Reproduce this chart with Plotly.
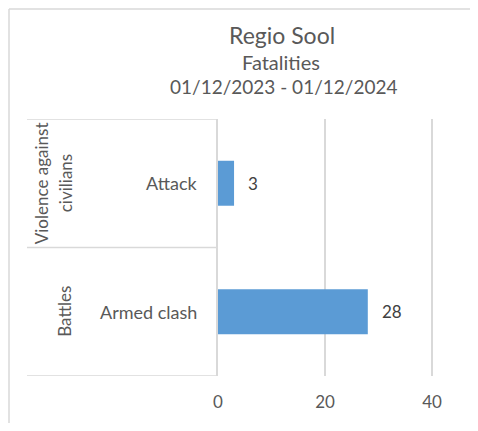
import plotly.graph_objects as go

groups = ["Battles", "Violence against civilians"]
categories = ["Armed clash", "Attack"]
values = [28, 3]
x_ticks = [0, 20, 40]
title = "Regio Sool"
subtitle = "Fatalities"
period = "01/12/2023 - 01/12/2024"

OFF = 8  # page body margin
W, H = 478 - 2 * OFF, 431 - 2 * OFF
PL, PR, PT, PB = 218, 434, 119, 376  # plot area in window pixels
L, R, T, B = PL - OFF, (OFF + W) - PR, PT - OFF, (OFF + H) - PB
pw, ph = PR - PL, PB - PT
X_MAX = 40 * pw / 214.0  # so that 40 sits at window x=432

def px(x):
    return (x - PL) / pw

def py(y):
    return (PB - y) / ph

FONT = "Lato, Carlito, 'Liberation Sans', sans-serif"
TXT = "#595959"
GRID = "#d9d9d9"

fig = go.Figure()
fig.add_trace(go.Bar(
    y=list(range(len(categories))), x=values, orientation="h",
    marker=dict(color="#5b9bd5", line=dict(width=0)),
    width=0.35, hoverinfo="skip",
))

ann = []
ann.append(dict(text=title, x=px(282), y=py(35), xref="paper", yref="paper",
                showarrow=False, font=dict(size=23, color=TXT, family=FONT),
                xanchor="center", yanchor="middle"))
ann.append(dict(text=subtitle, x=px(281), y=py(62), xref="paper", yref="paper",
                showarrow=False, font=dict(size=20, color=TXT, family=FONT),
                xanchor="center", yanchor="middle"))
ann.append(dict(text=period, x=px(283), y=py(86), xref="paper", yref="paper",
                showarrow=False, font=dict(size=19, color=TXT, family=FONT),
                xanchor="center", yanchor="middle"))

for i, (c, v) in enumerate(zip(categories, values)):
    ann.append(dict(text=str(v), x=v, y=i, xref="x", yref="y", showarrow=False,
                    xanchor="left", yanchor="middle", xshift=12,
                    font=dict(size=17, color="#404040", family=FONT)))
    ann.append(dict(text=c, x=px(199), y=i, xref="paper", yref="y", showarrow=False,
                    xanchor="right", yanchor="middle",
                    font=dict(size=18, color=TXT, family=FONT)))

for i, g in enumerate(groups):
    words = g.split(" ")
    if len(words) > 2:
        lines = [" ".join(words[:2]), " ".join(words[2:])]
    else:
        lines = [g]
    xs = [65] if len(lines) == 1 else [41, 65]
    for ln, xx in zip(lines, xs):
        ann.append(dict(text=ln, x=px(xx), y=i, xref="paper", yref="y", showarrow=False,
                        textangle=-90, xanchor="center", yanchor="middle",
                        font=dict(size=17, color=TXT, family=FONT)))

shapes = []
for yv in [-0.5, 0.5, 1.5]:
    shapes.append(dict(type="line", xref="paper", yref="y", x0=px(27), x1=0,
                       y0=yv, y1=yv, line=dict(color=GRID, width=1.5)))
shapes.append(dict(type="line", xref="paper", yref="paper", x0=px(9), x1=px(9),
                   y0=py(9), y1=py(440), line=dict(color=GRID, width=1.5)))
shapes.append(dict(type="line", xref="paper", yref="paper", x0=px(9), x1=px(490),
                   y0=py(9), y1=py(9), line=dict(color=GRID, width=1.5)))

fig.update_layout(
    width=W, height=H, autosize=False,
    margin=dict(l=L, r=R, t=T, b=B, pad=0),
    paper_bgcolor="white", plot_bgcolor="white",
    showlegend=False,
    annotations=ann, shapes=shapes,
    font=dict(family=FONT, color=TXT),
    xaxis=dict(range=[0, X_MAX], tickvals=x_ticks, showgrid=True, gridcolor=GRID,
               gridwidth=1.5, zeroline=False, showline=False, ticks="",
               tickfont=dict(size=17, color=TXT, family=FONT), ticklabelstandoff=14),
    yaxis=dict(range=[-0.5, 1.5], showticklabels=False, showgrid=False,
               zeroline=False, showline=True, linecolor=GRID, linewidth=1.5, ticks=""),
)

fig.write_html("out.html", config=dict(displayModeBar=False))
